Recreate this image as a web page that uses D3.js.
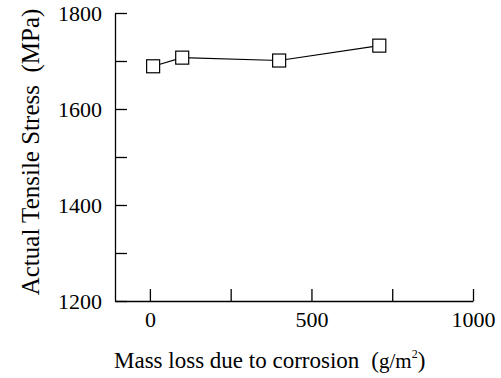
<!DOCTYPE html>
<html>
<head>
<meta charset="utf-8">
<script src="https://cdn.jsdelivr.net/npm/d3@7"></script>
<style>
  body { margin: 0; background: #fff; }
  text { font-family: "Liberation Serif", "Times New Roman", serif; fill: #000; }
</style>
</head>
<body>
<script>
var width = 501,
    height = 378;

// data
var massLoss = [10, 100, 400, 710];
var tensileStress = [1689, 1707, 1701, 1732];
var xTicks = [0, 250, 500, 750, 1000];
var xLabels = [0, 500, 1000];
var yTicks = [1200, 1300, 1400, 1500, 1600, 1700, 1800];
var yLabels = [1200, 1400, 1600, 1800];

var margin = {left: 115, right: 28, top: 13, bottom: 77};

var svg = d3.select("body").append("svg")
    .attr("width", width)
    .attr("height", height);

var x = d3.scaleLinear()
    .domain([-108, 1000])
    .range([margin.left, width - margin.right]);

var y = d3.scaleLinear()
    .domain([1200, 1800])
    .range([height - margin.bottom, margin.top]);

// x axis, ticks pointing inward
var xAxis = svg.append("g")
    .attr("transform", "translate(0," + y(1200) + ")")
    .call(d3.axisBottom(x)
      .tickValues(xTicks)
      .tickSizeInner(-12)
      .tickSizeOuter(0)
      .tickFormat(function(d) { return xLabels.indexOf(d) == -1 ? "" : d; }));

xAxis.select(".domain").attr("stroke", "#000").attr("stroke-width", 1.3);
xAxis.selectAll(".tick line").attr("stroke-width", 1.3);
xAxis.selectAll(".tick text")
    .attr("y", 10)
    .attr("dy", "0.71em")
    .style("font-size", "22px")
    .style("font-family", "Liberation Serif");

// y axis
var yAxis = svg.append("g")
    .attr("transform", "translate(" + x(-108) + ",0)")
    .call(d3.axisLeft(y)
      .tickValues(yTicks)
      .tickSizeInner(-12)
      .tickSizeOuter(0)
      .tickFormat(function(d) { return yLabels.indexOf(d) == -1 ? "" : d; }));

yAxis.select(".domain").attr("stroke", "#000").attr("stroke-width", 1.3);
yAxis.selectAll(".tick line").attr("stroke-width", 1.3);
yAxis.selectAll(".tick text")
    .attr("x", -13)
    .style("font-size", "22px")
    .style("font-family", "Liberation Serif");

// line + open square markers
var pts = massLoss.map(function(d, i) { return [d, tensileStress[i]]; });

svg.append("path")
    .datum(pts)
    .attr("fill", "none")
    .attr("stroke", "#000")
    .attr("stroke-width", 1.2)
    .attr("d", d3.line()
      .x(function(d) { return x(d[0]); })
      .y(function(d) { return y(d[1]); }));

var s = 13;
svg.selectAll("rect.pt")
    .data(pts)
  .enter().append("rect")
    .attr("class", "pt")
    .attr("x", function(d) { return x(d[0]) - s / 2; })
    .attr("y", function(d) { return y(d[1]) - s / 2; })
    .attr("width", s)
    .attr("height", s)
    .attr("fill", "#fff")
    .attr("stroke", "#000")
    .attr("stroke-width", 1.2);

// axis titles
var xt = svg.append("text")
    .attr("x", 114)
    .attr("y", 368)
    .style("font-size", "23px");
xt.append("tspan").text("Mass loss due to corrosion");
xt.append("tspan").attr("dx", 12).text("(");
xt.append("tspan").style("font-size", "21px").text("g/m");
xt.append("tspan").style("font-size", "12px").attr("dy", -10).text("2");
xt.append("tspan").attr("dy", 10).text(")");

svg.append("text")
    .attr("transform", "translate(39,152) rotate(-90)")
    .attr("text-anchor", "middle")
    .style("font-size", "25px")
    .style("white-space", "pre")
    .text("Actual Tensile Stress  (MPa)");
</script>
</body>
</html>
